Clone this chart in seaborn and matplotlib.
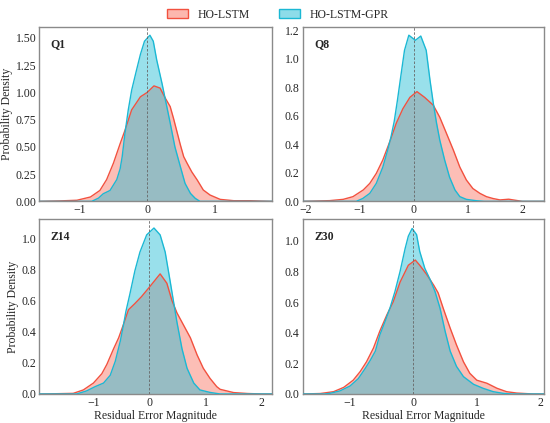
import numpy as np
import pandas as pd
import matplotlib
matplotlib.use("Agg")
import matplotlib.pyplot as plt
import seaborn as sns
from matplotlib.patches import Patch

sns.set_theme(style="white")
plt.rcParams['font.family'] = ['Liberation Serif', 'DejaVu Serif']

panels = ["Q1", "Q8", "Z14", "Z30"]
series_names = ["HO-LSTM", "HO-LSTM-GPR"]

# Density curves (x = residual, y = density)
q1_lstm_x = [-1.6, -1.3, -1.04, -0.84, -0.7, -0.6, -0.5, -0.4, -0.33, -0.23, -0.1, 0.0, 0.1, 0.19, 0.27, 0.34, 0.39, 0.44, 0.49, 0.54, 0.59, 0.66, 0.74, 0.83, 0.93, 1.08, 1.28, 1.53, 1.67, 1.85]
q1_lstm_y = [0.0, 0.004, 0.01, 0.04, 0.1, 0.2, 0.35, 0.53, 0.65, 0.84, 0.96, 1.0, 1.06, 1.04, 0.945, 0.87, 0.76, 0.64, 0.52, 0.41, 0.35, 0.27, 0.196, 0.104, 0.058, 0.018, 0.006, 0.006, 0.003, 0.0]
q1_gpr_x = [-1.6, -0.82, -0.72, -0.65, -0.55, -0.45, -0.4, -0.37, -0.33, -0.28, -0.23, -0.16, -0.1, -0.04, 0.04, 0.09, 0.14, 0.22, 0.27, 0.34, 0.41, 0.49, 0.56, 0.64, 0.71, 0.78, 1.85]
q1_gpr_y = [0.0, 0.0, 0.03, 0.07, 0.1, 0.2, 0.3, 0.41, 0.62, 0.84, 1.02, 1.2, 1.35, 1.47, 1.525, 1.47, 1.3, 1.08, 0.93, 0.72, 0.5, 0.32, 0.165, 0.073, 0.028, 0.0, 0.0]

q8_lstm_x = [-2.05, -1.84, -1.55, -1.3, -1.12, -0.93, -0.81, -0.69, -0.57, -0.44, -0.32, -0.2, -0.07, 0.06, 0.2, 0.36, 0.48, 0.6, 0.73, 0.85, 0.97, 1.09, 1.22, 1.34, 1.46, 1.59, 1.75, 1.9, 2.0, 2.4]
q8_lstm_y = [0.0, 0.002, 0.005, 0.014, 0.033, 0.08, 0.126, 0.196, 0.29, 0.42, 0.55, 0.65, 0.73, 0.77, 0.73, 0.675, 0.59, 0.48, 0.36, 0.24, 0.15, 0.09, 0.056, 0.033, 0.02, 0.01, 0.015, 0.006, 0.0, 0.0]
q8_gpr_x = [-2.05, -1.06, -0.94, -0.81, -0.69, -0.57, -0.48, -0.42, -0.36, -0.3, -0.23, -0.17, -0.09, 0.03, 0.13, 0.23, 0.3, 0.36, 0.42, 0.48, 0.57, 0.66, 0.76, 0.85, 0.97, 1.16, 1.3, 2.4]
q8_gpr_y = [0.0, 0.0, 0.02, 0.056, 0.126, 0.24, 0.36, 0.45, 0.56, 0.71, 0.9, 1.06, 1.166, 1.13, 1.16, 1.06, 0.85, 0.69, 0.55, 0.43, 0.29, 0.17, 0.08, 0.033, 0.014, 0.004, 0.0, 0.0]

z14_lstm_x = [-1.97, -1.77, -1.36, -1.18, -1.0, -0.85, -0.76, -0.64, -0.55, -0.46, -0.375, -0.26, -0.14, 0.01, 0.19, 0.31, 0.4, 0.49, 0.61, 0.73, 0.85, 0.96, 1.08, 1.2, 1.26, 1.5, 1.75, 2.03, 2.19]
z14_lstm_y = [0.0, 0.001, 0.004, 0.026, 0.07, 0.13, 0.19, 0.29, 0.36, 0.45, 0.54, 0.58, 0.625, 0.69, 0.77, 0.71, 0.6, 0.52, 0.44, 0.36, 0.25, 0.165, 0.1, 0.047, 0.03, 0.009, 0.003, 0.0, 0.0]
z14_gpr_x = [-1.97, -1.3, -1.12, -0.97, -0.82, -0.7, -0.61, -0.52, -0.46, -0.42, -0.35, -0.26, -0.17, -0.05, 0.08, 0.19, 0.28, 0.37, 0.43, 0.49, 0.58, 0.67, 0.79, 0.9, 1.08, 1.26, 2.19]
z14_gpr_y = [0.0, 0.0, 0.02, 0.047, 0.07, 0.12, 0.21, 0.34, 0.45, 0.53, 0.64, 0.79, 0.91, 1.02, 1.064, 1.02, 0.91, 0.72, 0.59, 0.46, 0.29, 0.165, 0.07, 0.026, 0.01, 0.0, 0.0]

z30_lstm_x = [-1.75, -1.47, -1.26, -1.1, -0.95, -0.84, -0.74, -0.63, -0.53, -0.42, -0.32, -0.21, -0.08, 0.03, 0.1, 0.21, 0.32, 0.39, 0.47, 0.58, 0.68, 0.79, 0.89, 1.0, 1.16, 1.32, 1.47, 1.63, 1.89, 2.06]
z30_lstm_y = [0.0, 0.003, 0.015, 0.043, 0.09, 0.146, 0.21, 0.3, 0.41, 0.515, 0.6, 0.73, 0.84, 0.874, 0.84, 0.78, 0.71, 0.66, 0.56, 0.43, 0.32, 0.21, 0.135, 0.09, 0.07, 0.037, 0.015, 0.006, 0.0, 0.0]
z30_gpr_x = [-1.75, -1.4, -1.32, -1.16, -1.0, -0.87, -0.76, -0.68, -0.6, -0.53, -0.45, -0.37, -0.29, -0.21, -0.13, -0.08, -0.02, 0.05, 0.1, 0.18, 0.26, 0.34, 0.42, 0.5, 0.58, 0.68, 0.79, 0.95, 1.1, 1.26, 1.42, 1.55, 2.06]
z30_gpr_y = [0.0, 0.0, 0.004, 0.02, 0.052, 0.1, 0.167, 0.22, 0.28, 0.385, 0.47, 0.56, 0.67, 0.8, 0.95, 1.03, 1.08, 1.04, 0.93, 0.82, 0.75, 0.67, 0.56, 0.41, 0.28, 0.18, 0.113, 0.063, 0.037, 0.015, 0.004, 0.0, 0.0]

curves = {
    "Q1": [(q1_lstm_x, q1_lstm_y), (q1_gpr_x, q1_gpr_y)],
    "Q8": [(q8_lstm_x, q8_lstm_y), (q8_gpr_x, q8_gpr_y)],
    "Z14": [(z14_lstm_x, z14_lstm_y), (z14_gpr_x, z14_gpr_y)],
    "Z30": [(z30_lstm_x, z30_lstm_y), (z30_gpr_x, z30_gpr_y)],
}

xlims = {"Q1": (-1.6, 1.85), "Q8": (-2.05, 2.4), "Z14": (-1.97, 2.19), "Z30": (-1.75, 2.06)}
ylims = {"Q1": (0, 1.6), "Q8": (0, 1.223), "Z14": (0, 1.12), "Z30": (0, 1.14)}
yticks = {"Q1": [0, 0.25, 0.5, 0.75, 1.0, 1.25, 1.5], "Q8": [0, 0.2, 0.4, 0.6, 0.8, 1.0, 1.2],
          "Z14": [0, 0.2, 0.4, 0.6, 0.8, 1.0], "Z30": [0, 0.2, 0.4, 0.6, 0.8, 1.0]}
yfmt = {"Q1": "{:.2f}", "Q8": "{:.1f}", "Z14": "{:.1f}", "Z30": "{:.1f}"}
xticks = {"Q1": [-1, 0, 1], "Q8": [-2, -1, 0, 1, 2], "Z14": [-1, 0, 1, 2], "Z30": [-1, 0, 1, 2]}

line_colors = ["#F2513F", "#1BB8D4"]
fill_colors = ["#FA6F5F", "#1DBBD3"]
fill_alpha = 0.45

fig = plt.figure(figsize=(5.5, 4.23), dpi=100)
positions = {
    "Q1": [0.071, 0.524, 0.424, 0.412],
    "Q8": [0.550, 0.524, 0.439, 0.412],
    "Z14": [0.071, 0.0686, 0.424, 0.413],
    "Z30": [0.550, 0.0686, 0.439, 0.413],
}

for p in panels:
    ax = fig.add_axes(positions[p])
    for i, (xs, ys) in enumerate(curves[p]):
        df = pd.DataFrame({"x": xs, "y": ys})
        ax.fill_between(df["x"], 0, df["y"], color=fill_colors[i], alpha=fill_alpha, linewidth=0)
        sns.lineplot(data=df, x="x", y="y", ax=ax, color=line_colors[i], linewidth=1.0, zorder=3 + i)
    ax.axvline(0, color="#666666", linestyle=(0, (3, 2)), linewidth=0.6, zorder=6)
    ax.set_xlim(*xlims[p])
    ax.set_ylim(*ylims[p])
    ax.set_xticks(xticks[p])
    ax.set_xticklabels([("\u2212" + str(abs(t))) if t < 0 else str(t) for t in xticks[p]])
    ax.set_yticks(yticks[p])
    ax.set_yticklabels([yfmt[p].format(t) for t in yticks[p]])
    ax.tick_params(axis="both", labelsize=8.5, length=0, pad=2)
    for s in ax.spines.values():
        s.set_color("#8a8a8a")
        s.set_linewidth(1.0)
    ax.text(0.05, 0.9, p, transform=ax.transAxes, fontsize=8.5, fontweight="bold", va="center", ha="left")
    if p in ("Q1", "Z14"):
        ax.set_ylabel("Probability Density", fontsize=8.5, labelpad=2)
    else:
        ax.set_ylabel("")
    if p in ("Z14", "Z30"):
        ax.set_xlabel("Residual Error Magnitude", fontsize=8.5, labelpad=1)
    else:
        ax.set_xlabel("")

handles = [
    Patch(facecolor=(0.98, 0.44, 0.37, 0.5), edgecolor=line_colors[0], linewidth=1.0),
    Patch(facecolor=(0.11, 0.73, 0.83, 0.5), edgecolor=line_colors[1], linewidth=1.0),
]
fig.legend(handles, series_names, loc="upper center", bbox_to_anchor=(0.505, 1.005), ncol=2,
           frameon=False, fontsize=8.5, handlelength=1.8, handleheight=0.8, columnspacing=2.5)

fig.savefig("out.png", dpi=100)
